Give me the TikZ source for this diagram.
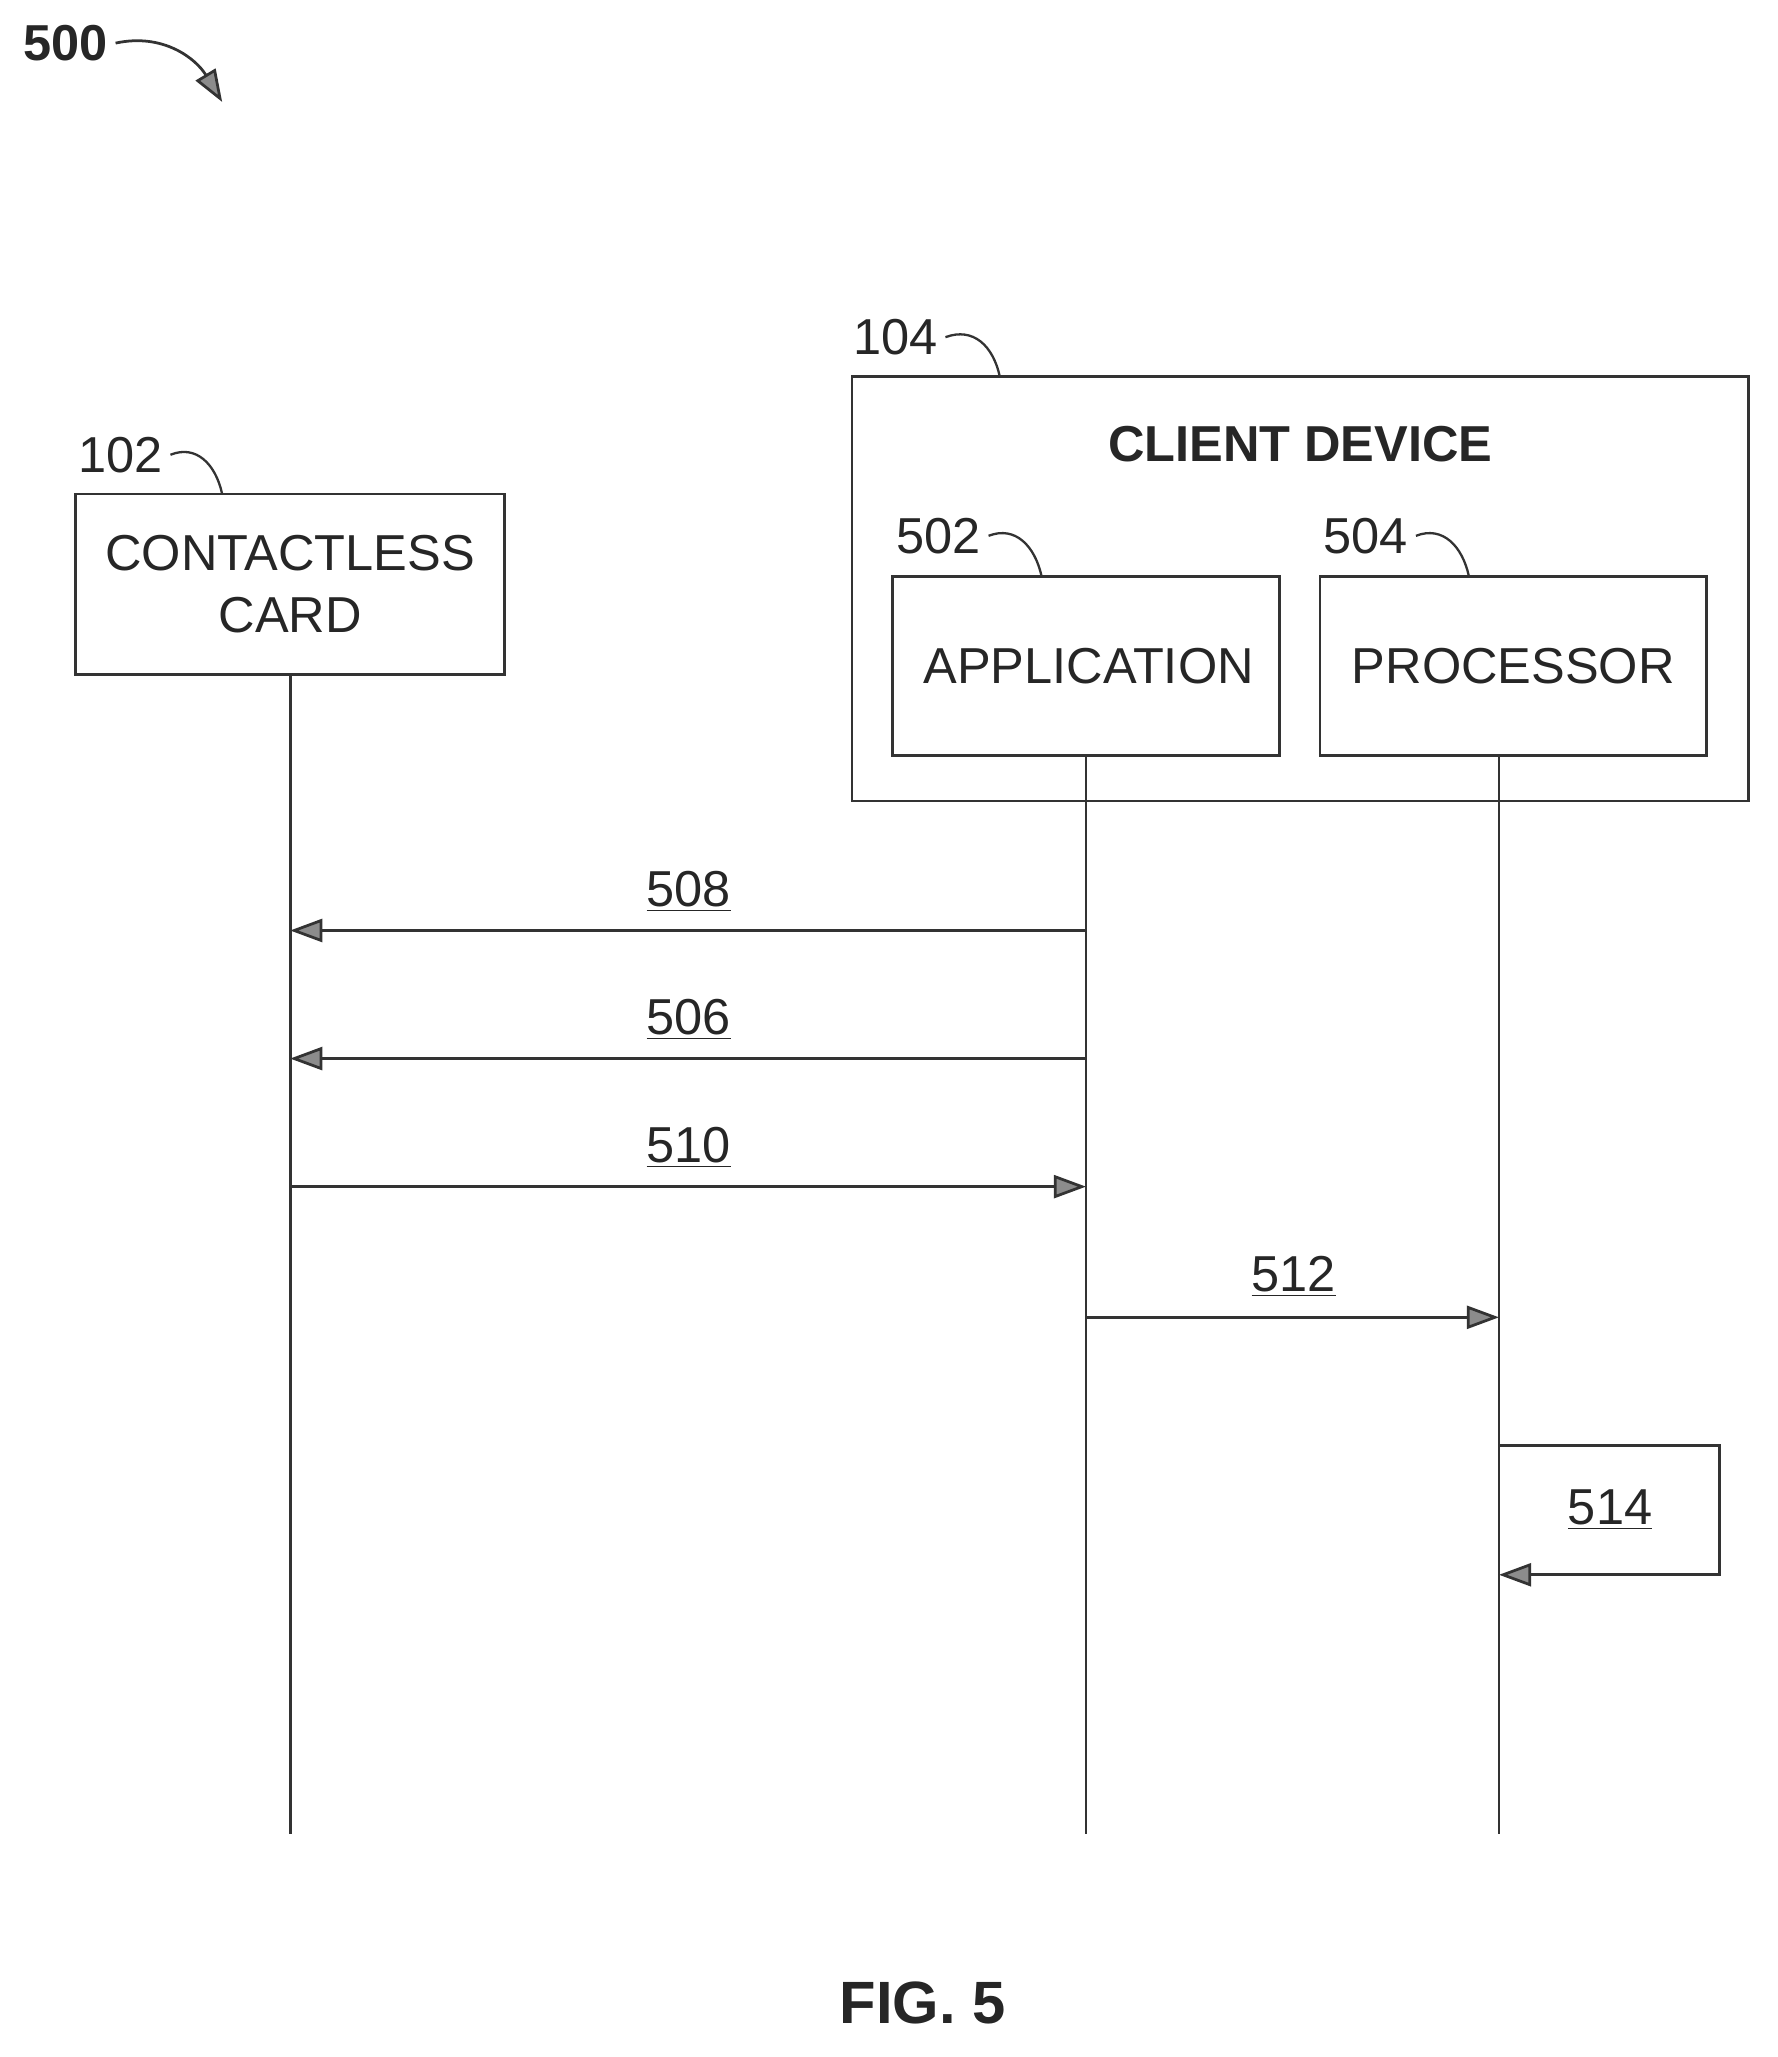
\documentclass[tikz,border=0pt]{standalone}
\usepackage{fontspec}
\setmainfont{Liberation Sans}
\usetikzlibrary{arrows.meta}
\begin{document}
\begin{tikzpicture}[x=0.02cm,y=-0.02cm,
  ln/.style={draw=black!80,line width=1.2pt},
  box/.style={ln,draw,minimum width=0,inner sep=0},
  txt/.style={font=\fontsize{22}{27}\selectfont,text=black!85,align=center},
  btxt/.style={font=\fontsize{22}{27}\selectfont\bfseries,text=black!85},
  msg/.style={ln,-{Triangle[length=14pt,width=10pt,fill=black!45]}},
  sq/.style={ln,line width=1pt}]
\useasboundingbox (0,0) rectangle (1360,1574);
% 500
\node[btxt] (n500) at (50,33) {500};
\coordinate (a500) at (170,78);
\draw[msg] (n500.east) .. controls (125,25) and (150,45) .. (a500);
% card
\draw[ln] (58,378) rectangle (386,516);
\node[txt] (card) at (222,447) {CONTACTLESS\\CARD};
\node[txt] (l102) at (92,348) {102};
\draw[sq] (l102.east) .. controls (150,340) and (165,355) .. (170,378);
% client device
\draw[ln] (652,288) rectangle (1338,613);
\node[btxt] (cd) at (995,340) {CLIENT DEVICE};
\node[txt] (l104) at (685,258) {104};
\draw[sq] (l104.east) .. controls (745,250) and (760,265) .. (765,288);
\draw[ln] (683,441) rectangle (979,578);
\node[txt] (app) at (833,510) {APPLICATION};
\node[txt] (l502) at (718,410) {502};
\draw[sq] (l502.east) .. controls (777,402) and (792,418) .. (797,441);
\draw[ln] (1010,441) rectangle (1306,578);
\node[txt] (proc) at (1158,510) {PROCESSOR};
\node[txt] (l504) at (1045,410) {504};
\draw[sq] (l504.east) .. controls (1104,402) and (1119,418) .. (1124,441);
% lifelines
\coordinate (c0) at (222,516); \coordinate (c1) at (222,1403);
\coordinate (a0) at (831,578); \coordinate (a1) at (831,1403);
\coordinate (p0) at (1147,578); \coordinate (p1) at (1147,1403);
\draw[ln] (c0)--(c1); \draw[ln] (a0)--(a1); \draw[ln] (p0)--(p1);
% messages
\coordinate (m1a) at (831,712); \coordinate (m1b) at (222,712);
\draw[msg] (m1a)--(m1b);
\node[txt] (t508) at (527,682) {\underline{508}};
\coordinate (m2a) at (831,810); \coordinate (m2b) at (222,810);
\draw[msg] (m2a)--(m2b);
\node[txt] (t506) at (527,780) {\underline{506}};
\coordinate (m3a) at (222,908); \coordinate (m3b) at (831,908);
\draw[msg] (m3a)--(m3b);
\node[txt] (t510) at (527,878) {\underline{510}};
\coordinate (m4a) at (831,1008); \coordinate (m4b) at (1147,1008);
\draw[msg] (m4a)--(m4b);
\node[txt] (t512) at (990,977) {\underline{512}};
\coordinate (m5a) at (1147,1106); \coordinate (m5b) at (1147,1205);
\draw[msg] (m5a)--(1316,1106)--(1316,1205)--(m5b);
\node[txt] (t514) at (1232,1155) {\underline{514}};
\node[btxt,font=\fontsize{26}{30}\selectfont\bfseries] (fig) at (706,1533) {FIG. 5};
\end{tikzpicture}
\end{document}
